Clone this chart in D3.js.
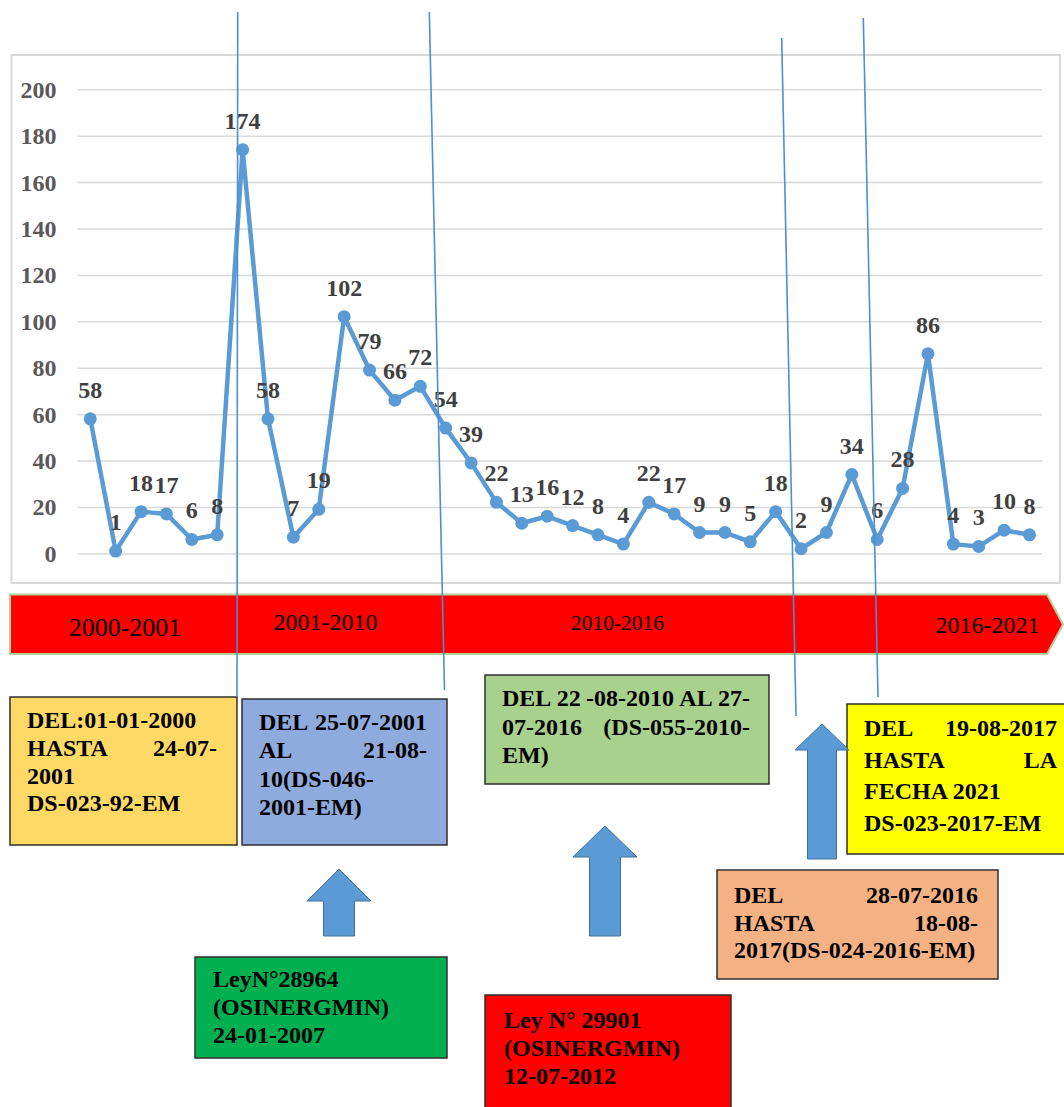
<!DOCTYPE html>
<html>
<head>
<meta charset="utf-8">
<script src="https://cdn.jsdelivr.net/npm/d3@7"></script>
<style>
  html, body { margin: 0; padding: 0; background: #ffffff; }
  svg { display: block; }
</style>
</head>
<body>
<svg id="chart" width="1064" height="1107"></svg>
<script>
// ---------- DATA ----------
const categories = d3.range(1, 39).map(String);
const values = [58, 1, 18, 17, 6, 8, 174, 58, 7, 19, 102, 79, 66, 72, 54, 39, 22, 13, 16, 12,
                8, 4, 22, 17, 9, 9, 5, 18, 2, 9, 34, 6, 28, 86, 4, 3, 10, 8];
const yTicks = [0, 20, 40, 60, 80, 100, 120, 140, 160, 180, 200];
const periodLabels = ["2000-2001", "2001-2010", "2010-2016", "2016-2021"];

const box1Lines = ["DEL:01-01-2000", "HASTA 24-07-", "2001", "DS-023-92-EM"];
const box2Lines = ["DEL 25-07-2001", "AL 21-08-", "10(DS-046-", "2001-EM)"];
const box3Lines = ["DEL 22 -08-2010 AL 27-", "07-2016 (DS-055-2010-", "EM)"];
const box4Lines = ["DEL 19-08-2017", "HASTA LA", "FECHA 2021", "DS-023-2017-EM"];
const box5Lines = ["DEL 28-07-2016", "HASTA 18-08-", "2017(DS-024-2016-EM)"];
const box6Lines = ["LeyN°28964", "(OSINERGMIN)", "24-01-2007"];
const box7Lines = ["Ley N° 29901", "(OSINERGMIN)", "12-07-2012"];

// ---------- LAYOUT ----------
const svg = d3.select("#chart");
const FONT = "'Liberation Serif', 'Times New Roman', serif";

const plot = { left: 77.6, right: 1042.2, top: 89.3, bottom: 553.4 };
const x = d3.scalePoint().domain(categories).range([plot.left, plot.right]).padding(0.5);
const y = d3.scaleLinear().domain([0, 200]).range([plot.bottom, plot.top]);

// chart frame
svg.append("rect").attr("x", 11.5).attr("y", 55).attr("width", 1048.5).attr("height", 528)
  .attr("fill", "#fff").attr("stroke", "#d9d9d9").attr("stroke-width", 2);

// gridlines
const grid = svg.append("g").attr("transform", `translate(${plot.left},0)`)
  .call(d3.axisLeft(y).tickValues(yTicks).tickSize(-(plot.right - plot.left)).tickFormat(""));
grid.select(".domain").remove();
grid.selectAll("line").attr("stroke", "#d9d9d9").attr("stroke-width", 1.5);

// y tick labels
const yAxis = svg.append("g").attr("transform", `translate(${plot.left},0)`)
  .call(d3.axisLeft(y).tickValues(yTicks).tickSize(0).tickPadding(21));
yAxis.select(".domain").remove();
yAxis.selectAll("text").attr("font-family", FONT).attr("font-weight", "bold")
  .attr("font-size", 24).attr("fill", "#595959").attr("dy", null)
  .attr("dominant-baseline", "central");

// series line
const line = d3.line().x((d, i) => x(categories[i])).y(d => y(d));
svg.append("path").datum(values).attr("d", line).attr("fill", "none")
  .attr("stroke", "#5b9bd5").attr("stroke-width", 4.5).attr("stroke-linejoin", "round");
svg.append("g").selectAll("circle").data(values).join("circle")
  .attr("cx", (d, i) => x(categories[i])).attr("cy", d => y(d)).attr("r", 6.5)
  .attr("fill", "#5b9bd5");
svg.append("g").selectAll("text").data(values).join("text")
  .attr("x", (d, i) => x(categories[i])).attr("y", d => y(d) - 29)
  .attr("text-anchor", "middle").attr("dominant-baseline", "central")
  .attr("font-family", FONT).attr("font-weight", "bold").attr("font-size", 24)
  .attr("fill", "#404040").text(d => d);

// banner arrow
svg.append("path")
  .attr("d", "M10,594.5 L1047,594.5 L1063,624.5 L1047,654 L10,654 Z")
  .attr("fill", "#ff0000").attr("stroke", "#b4cf98").attr("stroke-width", 2);
const bannerPos = [{ x: 125, y: 627, s: 26 }, { x: 325.5, y: 622, s: 24 },
                   { x: 617.5, y: 622.5, s: 21.5 }, { x: 987.5, y: 625, s: 24 }];
svg.append("g").selectAll("text").data(periodLabels).join("text")
  .attr("x", (d, i) => bannerPos[i].x).attr("y", (d, i) => bannerPos[i].y)
  .attr("font-size", (d, i) => bannerPos[i].s)
  .attr("text-anchor", "middle").attr("dominant-baseline", "central")
  .attr("font-family", FONT).attr("fill", "#000").text(d => d);

// boxes
const boxes = [
  { lines: box1Lines, just: [0, 1, 0, 0], r: [10, 697, 227, 148], fill: "#ffd966", tl: 27, tr: 217, y0: 720, lh: 27.8 },
  { lines: box2Lines, just: [1, 1, 0, 0], r: [242, 699, 205, 146], fill: "#8faadc", tl: 259, tr: 427, y0: 722, lh: 28.3 },
  { lines: box3Lines, just: [1, 1, 0], r: [485, 675, 284, 109], fill: "#a9d18e", tl: 502, tr: 750, y0: 698, lh: 28.5 },
  { lines: box4Lines, just: [1, 1, 0, 0], r: [847, 704, 222, 150], fill: "#ffff00", tl: 864, tr: 1057, y0: 728, lh: 31.7 },
  { lines: box5Lines, just: [1, 1, 0], r: [717, 870, 281, 109], fill: "#f4b183", tl: 734, tr: 978, y0: 895, lh: 27.5 },
  { lines: box6Lines, just: [0, 0, 0], r: [195, 957, 252, 101], fill: "#00b050", tl: 213, tr: 430, y0: 979, lh: 28 },
  { lines: box7Lines, just: [0, 0, 0], r: [485, 995, 246, 120], fill: "#ff0000", tl: 504, tr: 715, y0: 1020, lh: 28 }
];
boxes.forEach(b => {
  const g = svg.append("g");
  g.append("rect").attr("x", b.r[0]).attr("y", b.r[1]).attr("width", b.r[2]).attr("height", b.r[3])
    .attr("fill", b.fill).attr("stroke", "#2f2f2f").attr("stroke-width", 1.5);
  b.lines.forEach((ln, li) => {
    const yy = b.y0 + li * b.lh;
    const words = ln.split(" ");
    if (b.just[li] && words.length > 1) {
      const nodes = words.map(w => g.append("text").attr("y", yy)
        .attr("dominant-baseline", "central").attr("font-family", FONT)
        .attr("font-weight", "bold").attr("font-size", 24).attr("fill", "#000").text(w));
      const widths = nodes.map(n => n.node().getComputedTextLength());
      const gap = (b.tr - b.tl - d3.sum(widths)) / (words.length - 1);
      let cx = b.tl;
      nodes.forEach((n, k) => { n.attr("x", cx); cx += widths[k] + gap; });
    } else {
      g.append("text").attr("x", b.tl).attr("y", yy)
        .attr("dominant-baseline", "central").attr("font-family", FONT)
        .attr("font-weight", "bold").attr("font-size", 24).attr("fill", "#000").text(ln);
    }
  });
});

// up arrows
const arrows = [
  { cx: 339, tip: 869, base: 901, hw: 32, sw: 15.5, bottom: 936 },
  { cx: 605, tip: 826, base: 857, hw: 32, sw: 15.5, bottom: 936 },
  { cx: 822, tip: 724, base: 750, hw: 27, sw: 14.5, bottom: 859 }
];
svg.append("g").selectAll("path").data(arrows).join("path")
  .attr("d", a => `M${a.cx},${a.tip} L${a.cx + a.hw},${a.base} L${a.cx + a.sw},${a.base} L${a.cx + a.sw},${a.bottom} L${a.cx - a.sw},${a.bottom} L${a.cx - a.sw},${a.base} L${a.cx - a.hw},${a.base} Z`)
  .attr("fill", "#5b9bd5").attr("stroke", "#41719c").attr("stroke-width", 1);

// thin vertical connector lines
const connectors = [
  [237.7, 12, 237, 697], [429.3, 12, 444.5, 690],
  [781.7, 38, 796, 716], [863.3, 18, 878, 697]
];
svg.append("g").selectAll("line").data(connectors).join("line")
  .attr("x1", d => d[0]).attr("y1", d => d[1]).attr("x2", d => d[2]).attr("y2", d => d[3])
  .attr("stroke", "#4a90d2").attr("stroke-width", 1.6);
</script>
</body>
</html>
